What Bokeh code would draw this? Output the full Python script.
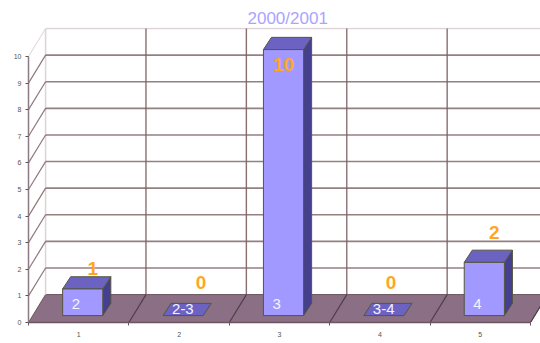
from bokeh.embed import file_html
from bokeh.models import ColumnDataSource, FixedTicker, Range1d
from bokeh.plotting import figure
from bokeh.resources import INLINE
from bokeh.core.properties import value as fixed

# Season summary, one column per class
title_text = "2000/2001"
categories = [1, 2, 3, 4, 5]
counts = [1, 0, 10, 0, 2]
class_names = ["2", "2-3", "3", "3-4", "4"]
y_ticks = list(range(0, 11))

# Pseudo-3D projection, in data units
WALL_DX, WALL_DY = 0.17, 1.05      # front plane to back wall
BAR_DX, BAR_DY = 0.08, 0.46        # depth of a column
BAR_BASE = 0.26                    # lift of a column's front edge off the floor
BAR_HALF = 0.2
BAR_SHIFT = 0.04

# Pixel nudges of the count labels relative to each column
count_dx = [10, 18, 0, 7, 10]
count_dy = [20, 33, -15, 33, 30]

PX_X, PX_Y = 100.4, 26.6
y_top = (322 - 27) / PX_Y

p = figure(width=540, height=343, output_backend="svg", toolbar_location=None,
           x_range=Range1d(0.5, 0.5 + 512 / PX_X), y_range=Range1d(0, y_top),
           min_border_left=28, min_border_right=0, min_border_bottom=21, min_border_top=27,
           background_fill_color="white", border_fill_color="white")
p.outline_line_color = None
p.xgrid.visible = False
p.ygrid.visible = False

p.title.text = title_text
p.title.text_color = "#a9a4ff"
p.title.text_font = "Liberation Sans"
p.title.text_font_size = "17px"
p.title.text_font_style = "normal"
p.title.align = "left"
p.title.offset = 219
p.title.standoff = 0

# Axes
edges = [c - 0.5 for c in categories] + [categories[-1] + 0.5]
p.xaxis.ticker = FixedTicker(ticks=categories, minor_ticks=edges)
p.xaxis.bounds = (edges[0], edges[-1])
p.xaxis.axis_line_color = "#6b5560"
p.xaxis.axis_line_width = 1.5
p.xaxis.major_tick_line_color = None
p.xaxis.minor_tick_line_color = "#6b5560"
p.xaxis.minor_tick_in = 0
p.xaxis.minor_tick_out = 3
p.xaxis.major_label_standoff = 3
p.xaxis.major_label_text_font = "Liberation Sans"
p.xaxis.major_label_text_font_size = "7px"
p.xaxis.major_label_text_color = "#555555"

p.yaxis.ticker = FixedTicker(ticks=y_ticks)
p.yaxis.bounds = (0, 10)
p.yaxis.axis_line_color = "#8d7a84"
p.yaxis.axis_line_width = 1.5
p.yaxis.major_tick_line_color = "#555555"
p.yaxis.major_tick_in = 0
p.yaxis.major_tick_out = 3
p.yaxis.minor_tick_line_color = None
p.yaxis.major_label_standoff = 4
p.yaxis.major_label_text_font = "Liberation Sans"
p.yaxis.major_label_text_font_size = "7px"
p.yaxis.major_label_text_color = "#555555"

# Floor
x0, x1 = edges[0], edges[-1]
p.patch([x0, x1, x1 + WALL_DX, x0 + WALL_DX], [0, 0, WALL_DY, WALL_DY],
        fill_color="#8b6f85", line_color="#6b5560", line_width=1)

# Back wall: light frame first, then the dark rules
GRID = "#7b6062"
LIGHT = "#ddd3d8"
p.line([x0 + WALL_DX, x0 + WALL_DX], [WALL_DY, 10 + WALL_DY], line_color=LIGHT, line_width=1.5)
p.line([x0 + WALL_DX, x1 + WALL_DX], [10 + WALL_DY, 10 + WALL_DY], line_color=LIGHT, line_width=1.5)
p.line([x0, x0 + WALL_DX], [10, 10 + WALL_DY], line_color=LIGHT, line_width=1)
for t in y_ticks[1:-1]:
    p.line([x0, x0 + WALL_DX], [t, t + WALL_DY], line_color=GRID, line_width=1.2, line_alpha=0.85)
    p.line([x0 + WALL_DX, x1 + WALL_DX], [t + WALL_DY, t + WALL_DY],
           line_color=GRID, line_width=1.6, line_alpha=0.8)
for e in edges[1:]:
    p.line([e + WALL_DX, e + WALL_DX], [WALL_DY, 10 + WALL_DY], line_color=GRID, line_width=1.4, line_alpha=0.9)
    p.line([e, e + WALL_DX], [0, WALL_DY], line_color="#4e3f46", line_width=1.2)

# Columns: front, right side and top faces
front_x, front_y, top_x, top_y, side_x, side_y = [], [], [], [], [], []
for c, n in zip(categories, counts):
    l = c + BAR_SHIFT - BAR_HALF
    r = c + BAR_SHIFT + BAR_HALF
    b, t = BAR_BASE, BAR_BASE + n
    top_x.append([l, r, r + BAR_DX, l + BAR_DX])
    top_y.append([t, t, t + BAR_DY, t + BAR_DY])
    if n > 0:
        front_x.append([l, r, r, l])
        front_y.append([b, b, t, t])
        side_x.append([r, r + BAR_DX, r + BAR_DX, r])
        side_y.append([b, b + BAR_DY, t + BAR_DY, t])
EDGE = "#55553f"
p.patches(side_x, side_y, fill_color="#443f8e", line_color=EDGE, line_width=1)
p.patches(top_x, top_y, fill_color="#6b62c2", line_color=EDGE, line_width=1)
p.patches(front_x, front_y, fill_color="#a199ff", line_color=EDGE, line_width=1)

# Labels
src = ColumnDataSource(dict(
    x=[c + BAR_SHIFT for c in categories],
    left=[c + BAR_SHIFT - BAR_HALF for c in categories],
    top=[BAR_BASE + n for n in counts],
    base=[BAR_BASE] * len(counts),
    count=[str(n) for n in counts],
    name=class_names,
    dx=count_dx,
    dy=[-d for d in count_dy],
    name_dy=[-12 if n > 0 else -7 for n in counts],
))
p.text("left", "base", text="name", source=src, x_offset=9, y_offset="name_dy",
       text_font=fixed("Liberation Sans"), text_font_size="15px", text_color="#f4f2ff",
       text_align="left", text_baseline="middle")
p.text("x", "top", text="count", source=src, x_offset="dx", y_offset="dy",
       text_font=fixed("Liberation Sans"), text_font_size="19px", text_font_style="bold",
       text_color="#ffa81f", text_align="center", text_baseline="middle")

open("out.html", "w").write(file_html(p, INLINE))
